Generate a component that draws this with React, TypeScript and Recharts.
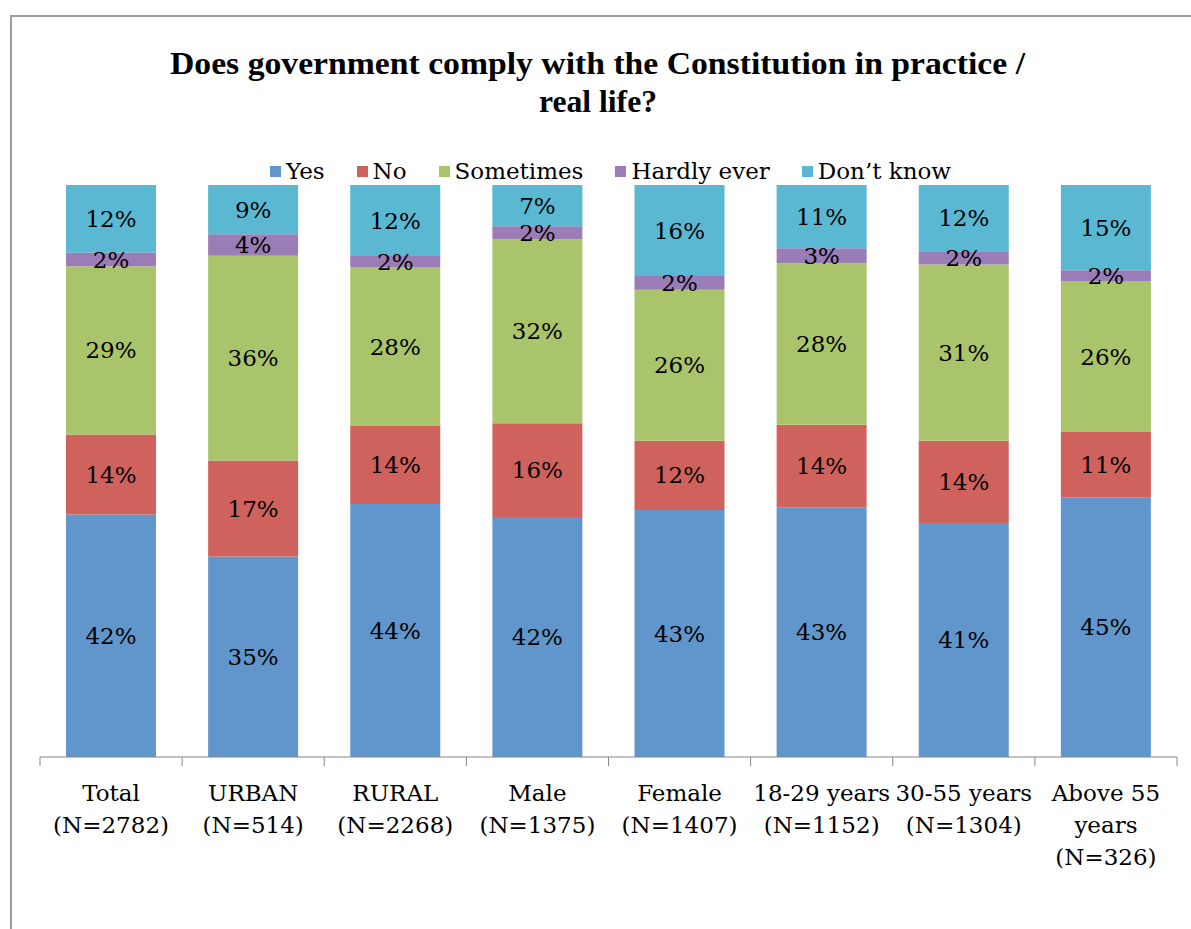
import React from 'react';
import { BarChart, Bar, XAxis, YAxis, LabelList } from 'recharts';

const categories = [
  'Total\n(N=2782)',
  'URBAN\n(N=514)',
  'RURAL\n(N=2268)',
  'Male\n(N=1375)',
  'Female\n(N=1407)',
  '18-29 years\n(N=1152)',
  '30-55 years\n(N=1304)',
  'Above 55\nyears\n(N=326)',
];

// percentages (labels show them rounded)
const yes = [42.4, 35.1, 44.2, 42.0, 43.2, 43.4, 40.9, 45.4];
const no = [14.0, 16.8, 13.6, 16.4, 12.1, 14.4, 14.4, 11.4];
const sometimes = [29.4, 35.8, 27.8, 32.2, 26.4, 28.1, 30.8, 26.4];
const hardlyEver = [2.4, 3.8, 1.9, 2.3, 2.4, 2.6, 2.3, 1.9];
const dontKnow = [11.8, 8.6, 12.4, 7.2, 15.9, 11.0, 11.6, 14.9];

const series = [
  { key: 'yes', name: 'Yes', color: '#6096cb' },
  { key: 'no', name: 'No', color: '#cf625c' },
  { key: 'sometimes', name: 'Sometimes', color: '#aac46c' },
  { key: 'hardly', name: 'Hardly ever', color: '#9a7db6' },
  { key: 'dk', name: 'Don\u2019t know', color: '#5ab8d2' },
];

const data = categories.map((name, i) => ({
  name,
  yes: yes[i],
  no: no[i],
  sometimes: sometimes[i],
  hardly: hardlyEver[i],
  dk: dontKnow[i],
}));

const FONT = "'DejaVu Serif', serif";
const W = 1191;
const H = 929;
const margin = { top: 185, right: 14, bottom: 112, left: 40 };
const band = (W - margin.left - margin.right) / categories.length;

const CategoryTick = (props: any) => {
  const { x, y, payload, index } = props;
  const lines: string[] = String(payload.value).split('\n');
  const left = x - band / 2;
  return (
    <g>
      <line x1={left} x2={left} y1={y} y2={y + 9} stroke="#868686" />
      {index === categories.length - 1 && (
        <line x1={left + band} x2={left + band} y1={y} y2={y + 9} stroke="#868686" />
      )}
      <text x={x} y={y + 44} textAnchor="middle" fontFamily={FONT} fontSize={23} fill="#000">
        {lines.map((l, i) => (
          <tspan key={i} x={x} dy={i === 0 ? 0 : 32}>
            {l}
          </tspan>
        ))}
      </text>
    </g>
  );
};

const pct = (v: any) => `${Math.round(Number(v))}%`;

export default function App() {
  return (
    <div style={{ position: 'absolute', left: 0, top: 0, width: W, height: H, background: '#fff', overflow: 'hidden' }}>
      <div
        style={{
          position: 'absolute',
          left: 10,
          top: 15,
          width: W - 10,
          height: H - 15,
          boxSizing: 'border-box',
          borderLeft: '2px solid #9d9d9d',
          borderTop: '2px solid #9d9d9d',
        }}
      />
      <svg width={W} height={140} style={{ position: 'absolute', left: 0, top: 0 }}>
        <text
          x={597.5}
          y={74}
          textAnchor="middle"
          fontFamily="'Liberation Serif', serif"
          fontWeight="bold"
          fontSize={32}
          textLength={855}
          lengthAdjust="spacingAndGlyphs"
          fill="#000"
        >
          Does government comply with the Constitution in practice /
        </text>
        <text
          x={598}
          y={112}
          textAnchor="middle"
          fontFamily="'Liberation Serif', serif"
          fontWeight="bold"
          fontSize={32}
          textLength={118}
          lengthAdjust="spacingAndGlyphs"
          fill="#000"
        >
          real life?
        </text>
      </svg>
      <div
        style={{
          position: 'absolute',
          left: 0,
          top: 156,
          width: W + 30,
          display: 'flex',
          justifyContent: 'center',
          fontFamily: FONT,
          fontSize: 23,
          lineHeight: '30px',
          color: '#000',
        }}
      >
        {series.map((s) => (
          <div key={s.key} style={{ display: 'flex', alignItems: 'center', margin: '0 16px' }}>
            <span style={{ display: 'inline-block', width: 11, height: 11, background: s.color, marginRight: 5 }} />
            <span>{s.name}</span>
          </div>
        ))}
      </div>
      <div style={{ position: 'absolute', left: 0, top: 0 }}>
        <BarChart width={W} height={H} data={data} margin={margin} stackOffset="expand" barSize={90}>
          <YAxis hide domain={[0, 1]} />
          <XAxis
            dataKey="name"
            interval={0}
            height={60}
            tickLine={false}
            tickSize={0}
            tickMargin={0}
            axisLine={{ stroke: '#868686' }}
            tick={<CategoryTick />}
          />
          {series.map((s) => (
            <Bar key={s.key} dataKey={s.key} name={s.name} stackId="a" fill={s.color} isAnimationActive={false}>
              <LabelList
                dataKey={s.key}
                position="center"
                formatter={pct}
                fill="#000"
                fontFamily={FONT}
                fontSize={23}
              />
            </Bar>
          ))}
        </BarChart>
      </div>
    </div>
  );
}
